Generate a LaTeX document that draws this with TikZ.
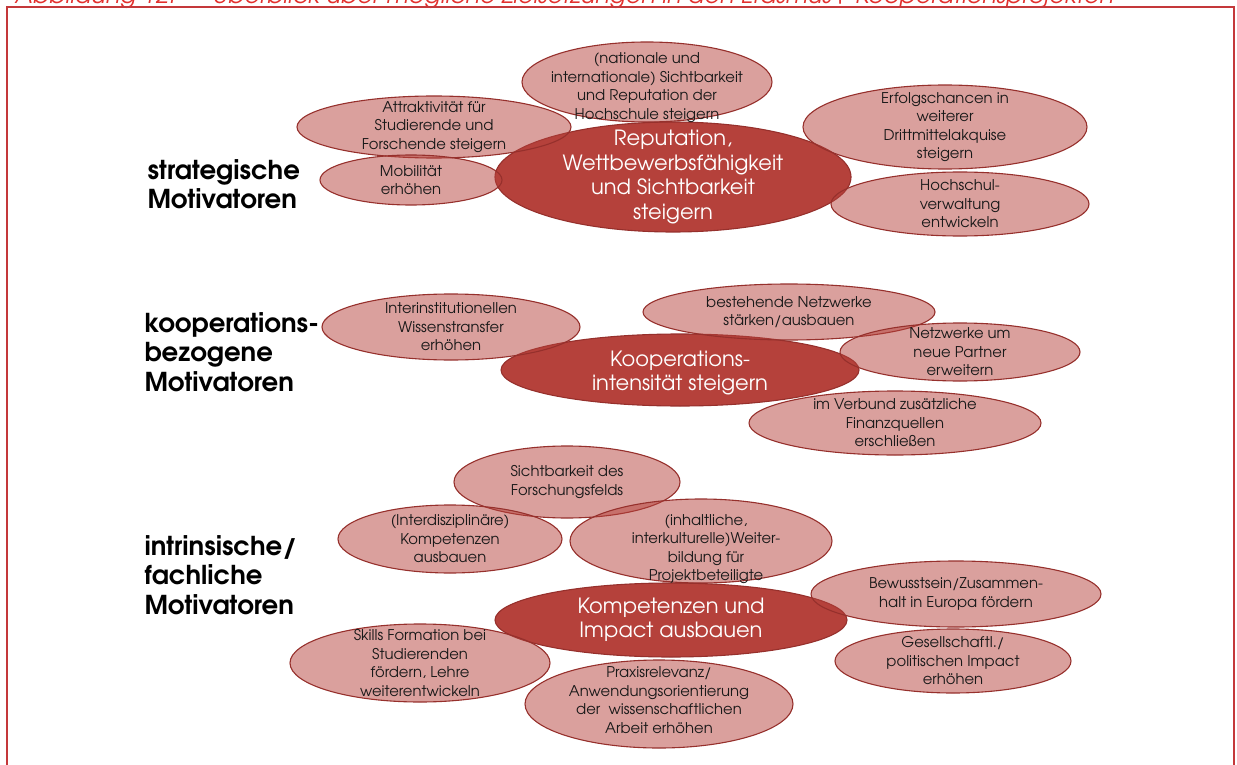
\documentclass[tikz,border=0pt]{standalone}
\usepackage{fontspec}
\setmainfont{texgyreadventor}[Extension=.otf, UprightFont=*-regular, BoldFont=*-bold, ItalicFont=*-italic, BoldItalicFont=*-bolditalic]
\usetikzlibrary{shapes.geometric}
\definecolor{kernrot}{RGB}{181,65,59}
\definecolor{randrot}{RGB}{150,48,44}
\definecolor{titelrot}{RGB}{226,48,45}
\definecolor{rahmenrot}{RGB}{196,56,58}

\begin{document}
\begin{tikzpicture}[x=1pt, y=-1pt,
	ziel/.style={ellipse, draw=randrot, line width=1.1pt, fill=kernrot, fill opacity=0.5, inner sep=0},
	kern/.style={ellipse, draw=randrot, line width=1.1pt, fill=kernrot, inner sep=0},
	klein/.style={align=center, font=\fontsize{14.8}{18.5}\selectfont, text=black!90},
	gross/.style={align=center, font=\fontsize{21}{24.5}\selectfont, text=white},
	gruppe/.style={anchor=west, align=left, font=\fontsize{26}{29.5}\selectfont\bfseries}]
	\clip (0,0) rectangle (1237,765);
	\useasboundingbox (0,0) rectangle (1237,765);
	% Titel und Rahmen
	\node[anchor=base west, inner sep=0, text=titelrot, font=\fontsize{23.8}{28}\selectfont\itshape] (titel) at (15,3.5)
		{Abbildung 12:\hspace{1.55em}Überblick über mögliche Zielsetzungen in den Erasmus+ Kooperationsprojekten};
	\draw[rahmenrot, line width=1.8pt] (7,7) rectangle (1234,800);

	% strategische Motivatoren
	\node[kern, minimum width=356, minimum height=110] (reputation) at (673,177) {};
	\node[ziel, minimum width=250, minimum height=80] (sichtbarkeit) at (647,82) {};
	\node[ziel, minimum width=274, minimum height=62] (attraktiv) at (434,127) {};
	\node[ziel, minimum width=182, minimum height=50] (mobil) at (411,180) {};
	\node[ziel, minimum width=284, minimum height=84] (drittmittel) at (945,127) {};
	\node[ziel, minimum width=258, minimum height=64] (verwaltung) at (960,204) {};

	% kooperationsbezogene Motivatoren
	\node[kern, minimum width=358, minimum height=72] (kooperation) at (680,370) {};
	\node[ziel, minimum width=258, minimum height=66] (transfer) at (451,327) {};
	\node[ziel, minimum width=292, minimum height=56] (netzwerke) at (789,312) {};
	\node[ziel, minimum width=240, minimum height=58] (partner) at (960,352) {};
	\node[ziel, minimum width=292, minimum height=64] (finanzen) at (895,423) {};

	% intrinsische/fachliche Motivatoren
	\node[kern, minimum width=352, minimum height=74] (kompetenz) at (671,620) {};
	\node[ziel, minimum width=226, minimum height=72] (forschungsfeld) at (567,482) {};
	\node[ziel, minimum width=224, minimum height=68] (interdisz) at (450,539) {};
	\node[ziel, minimum width=262, minimum height=84] (weiterbildung) at (701,541) {};
	\node[ziel, minimum width=290, minimum height=66] (europa) at (956,594) {};
	\node[ziel, minimum width=236, minimum height=64] (impact) at (953,661) {};
	\node[ziel, minimum width=260, minimum height=78] (skills) at (420,663) {};
	\node[ziel, minimum width=268, minimum height=88] (praxis) at (659,704) {};

	% Texte
	\node[gross] at (reputation) {Reputation,\\Wettbewerbsfähigkeit\\und Sichtbarkeit\\steigern};
	\node[klein] at ([yshift=-5.5]sichtbarkeit) {(nationale und\\internationale) Sichtbarkeit\\und Reputation der\\Hochschule steigern};
	\node[klein] at (attraktiv) {Attraktivität für\\Studierende und\\Forschende steigern};
	\node[klein] at (mobil) {Mobilität\\erhöhen};
	\node[klein] at (drittmittel) {Erfolgschancen in\\weiterer\\Drittmittelakquise\\steigern};
	\node[klein] at (verwaltung) {Hochschul-\\verwaltung\\entwickeln};

	\node[gross] at ([yshift=-3]kooperation) {Kooperations-\\intensität steigern};
	\node[klein] at (transfer) {Interinstitutionellen\\Wissenstransfer\\erhöhen};
	\node[klein] at (netzwerke) {bestehende Netzwerke\\stärken/ausbauen};
	\node[klein] at (partner) {Netzwerke um\\neue Partner\\erweitern};
	\node[klein] at (finanzen) {im Verbund zusätzliche\\Finanzquellen\\erschließen};

	\node[gross] at (kompetenz) {Kompetenzen und\\Impact ausbauen};
	\node[klein] at (forschungsfeld) {Sichtbarkeit des\\Forschungsfelds};
	\node[klein] at (interdisz) {(Interdisziplinäre)\\Kompetenzen\\ausbauen};
	\node[klein] at ([xshift=5,yshift=-8]weiterbildung) {(inhaltliche,\\interkulturelle)Weiter-\\bildung für\\Projektbeteiligte};
	\node[klein] at (europa) {Bewusstsein/Zusammen-\\halt in Europa fördern};
	\node[klein] at (impact) {Gesellschaftl./\\politischen Impact\\erhöhen};
	\node[klein] at (skills) {Skills Formation bei\\Studierenden\\fördern, Lehre\\weiterentwickeln};
	\node[klein] at ([yshift=4]praxis) {Praxisrelevanz/\\Anwendungsorientierung\\der\ \ wissenschaftlichen\\Arbeit erhöhen};

	% Gruppen
	\node[gruppe] (strategisch) at (144,184) {strategische\\Motivatoren};
	\node[gruppe] (kooperativ) at (141,352) {kooperations-\\bezogene\\Motivatoren};
	\node[gruppe] (intrinsisch) at (141,575) {intrinsische/\\fachliche\\Motivatoren};
\end{tikzpicture}
\end{document}
